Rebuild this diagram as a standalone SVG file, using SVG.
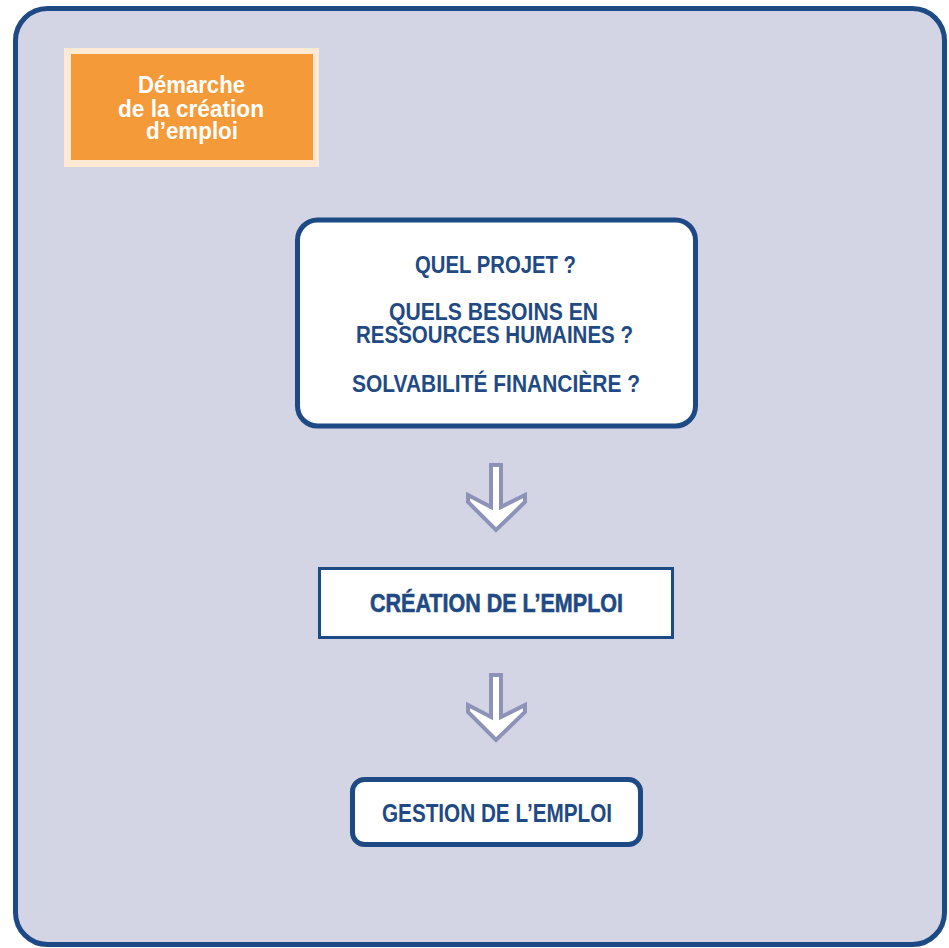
<svg xmlns="http://www.w3.org/2000/svg" width="949" height="948" viewBox="0 0 949 948">
<style>
.t{font-family:"Liberation Sans Narrow","Liberation Sans",Arial,sans-serif;font-weight:bold;fill:#1f4a84;text-anchor:middle}
.w{font-family:"Liberation Sans Narrow","Liberation Sans",Arial,sans-serif;font-weight:bold;fill:#ffffff;text-anchor:middle}
.arrow{fill:#ffffff;stroke:#8c92b8;stroke-width:4;stroke-linejoin:miter}
</style>
<rect x="15.5" y="8.5" width="929" height="936" rx="32" fill="#d3d4e4" stroke="#1d4a84" stroke-width="5"/>
<g id="title">
<rect x="64" y="48" width="255" height="119" fill="#fde9d4"/>
<rect x="71" y="54" width="242" height="106" fill="#f59a38"/>
<text class="w" font-size="23" x="191.5" y="93" textLength="107" lengthAdjust="spacingAndGlyphs">Démarche</text>
<text class="w" font-size="23" x="191" y="117" textLength="146" lengthAdjust="spacingAndGlyphs">de la création</text>
<text class="w" font-size="23" x="192" y="139" textLength="92" lengthAdjust="spacingAndGlyphs">d’emploi</text>
</g>
<g id="questions">
<rect x="297.5" y="220" width="398" height="206" rx="20" fill="#ffffff" stroke="#1d4a84" stroke-width="5"/>
<text class="t" font-size="24" x="495.5" y="273" textLength="161" lengthAdjust="spacingAndGlyphs">QUEL PROJET ?</text>
<text class="t" font-size="24" x="493.5" y="320" textLength="209" lengthAdjust="spacingAndGlyphs">QUELS BESOINS EN</text>
<text class="t" font-size="24" x="494.5" y="343" textLength="277" lengthAdjust="spacingAndGlyphs">RESSOURCES HUMAINES ?</text>
<text class="t" font-size="24" x="496" y="392" textLength="288" lengthAdjust="spacingAndGlyphs">SOLVABILITÉ FINANCIÈRE ?</text>
</g>
<g id="creation">
<rect x="319.5" y="568.5" width="353" height="69" fill="#ffffff" stroke="#1d4a84" stroke-width="3"/>
<text class="t" font-size="26" x="496.5" y="612" textLength="253" lengthAdjust="spacingAndGlyphs" stroke="#1f4a84" stroke-width="0.6">CRÉATION DE L’EMPLOI</text>
</g>
<g id="gestion">
<rect x="352.5" y="779.5" width="288" height="65" rx="12" fill="#ffffff" stroke="#1d4a84" stroke-width="5"/>
<text class="t" font-size="25" x="497" y="822" textLength="230" lengthAdjust="spacingAndGlyphs">GESTION DE L’EMPLOI</text>
</g>
<g id="connectors">
<polygon class="arrow" points="491,465 501,465 501,507 525,495 525,502 496,530 468,502 468,495 491,507"/>
<polygon class="arrow" transform="translate(0,210)" points="491,465 501,465 501,507 525,495 525,502 496,530 468,502 468,495 491,507"/>
</g>
</svg>
